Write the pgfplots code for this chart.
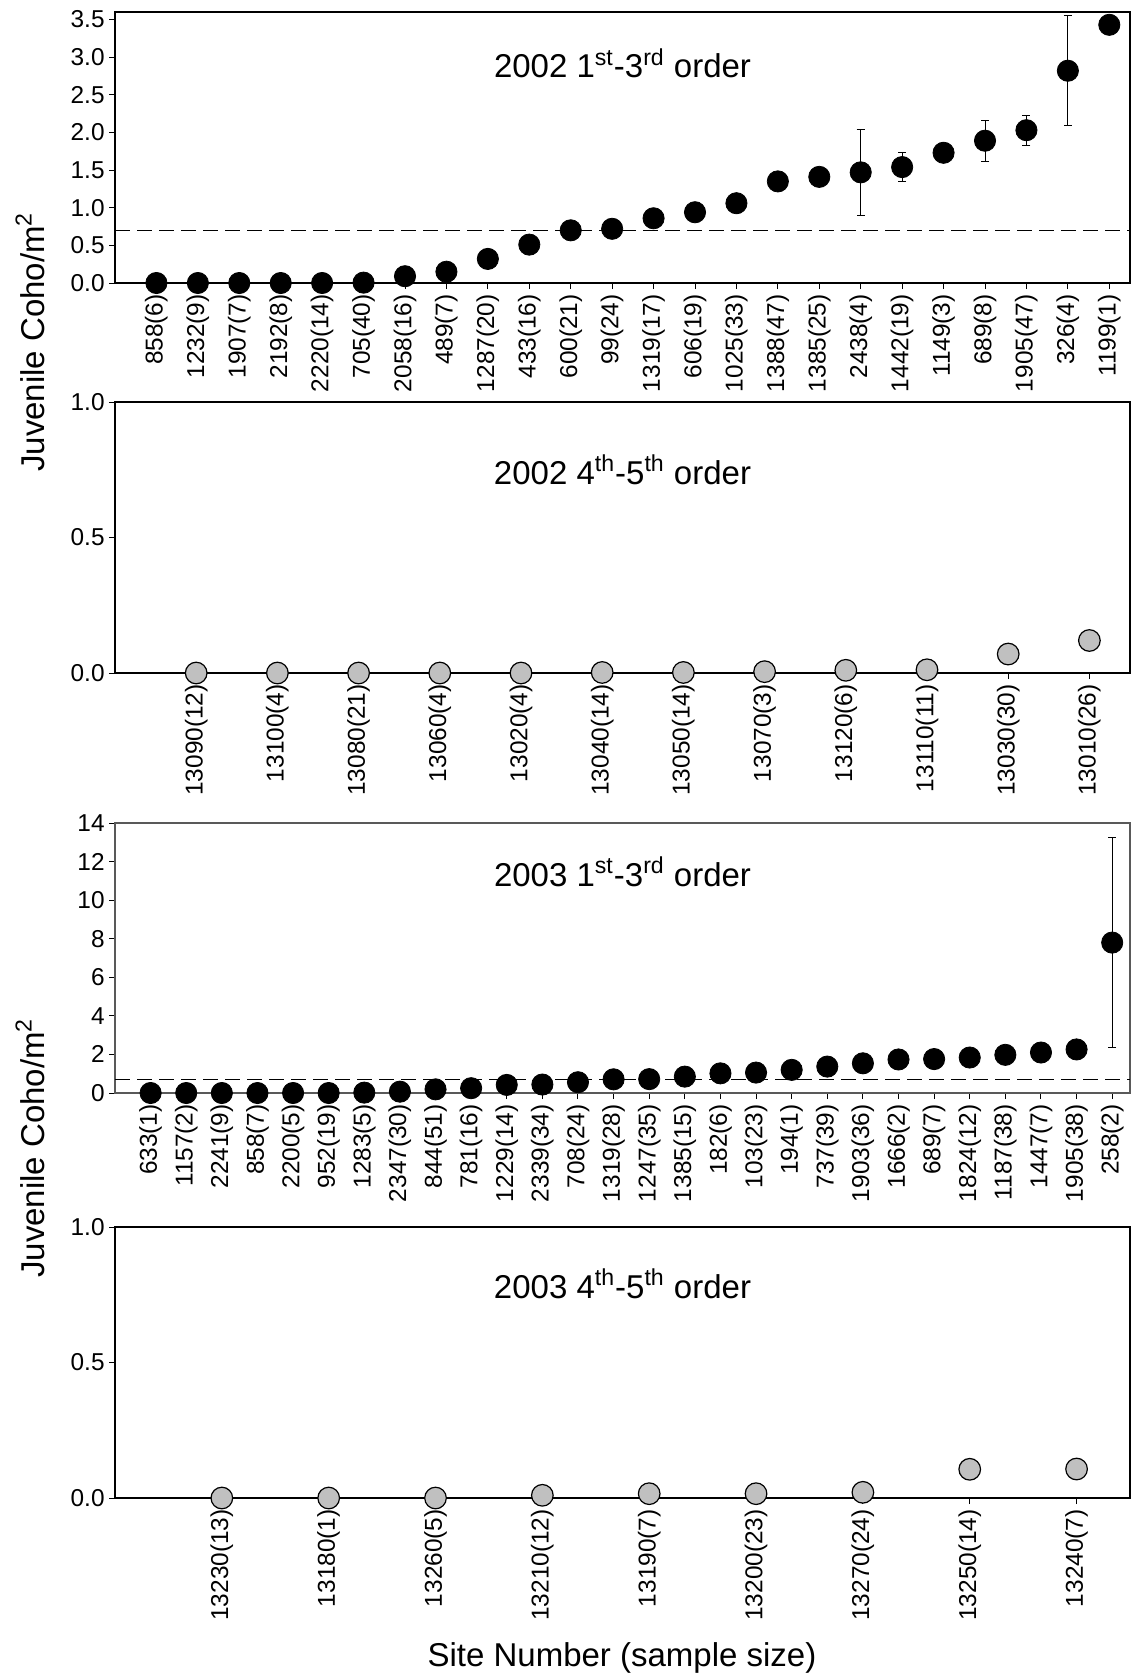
\documentclass[border=0pt]{standalone}
\usepackage{fontspec}
\setmainfont{Liberation Sans}
\usepackage{pgfplots}
\pgfplotsset{compat=1.18}

\definecolor{dotgrey}{RGB}{192,192,192}

\pgfplotsset{
  panel/.style={
    scale only axis, width=507.5pt, height=135.5pt,
    anchor=south west, clip=false,
    xmin=0, ymin=0,
    axis line style={line width=0.6pt},
    xtick pos=bottom, ytick pos=left, tick align=outside,
    major tick length=3pt,
    tick style={black, line width=0.5pt},
    /pgf/number format/assume math mode=true,
    ticklabel style={font=\fontsize{12.2}{12.2}\selectfont},
    xticklabel style={rotate=90, anchor=east, inner sep=2.5pt},
    yticklabel style={inner sep=2pt},
  },
  ydec/.style={yticklabel style={/pgf/number format/.cd, fixed, fixed zerofill, precision=1}},
  blackdot/.style={only marks, mark=*, mark size=5.3pt, mark options={fill=black, draw=black},
    error bars/.cd, y dir=both, y explicit,
    error bar style={black, line width=0.5pt},
    error mark options={rotate=90, mark size=2pt, black, line width=0.5pt}},
  greydot/.style={only marks, mark=*, mark size=5.4pt, mark options={fill=dotgrey, draw=black, line width=0.6pt}},
  refline/.style={black, line width=0.5pt, dash pattern=on 7.5pt off 3.5pt},
}

\newcommand{\ttl}[1]{\fontsize{16.5}{16.5}\selectfont #1}

\begin{document}
\begin{tikzpicture}
\path[use as bounding box] (0,0) rectangle (566pt,-839pt);

% 2002 1st-3rd order
\begin{axis}[panel, ydec, at={(57.5pt,-141.5pt)},
  xmax=24.5, ymax=3.6, ytick={0,0.5,...,3.5},
  xtick={1,...,24},
  xticklabels={858(6),1232(9),1907(7),2192(8),2220(14),705(40),2058(16),489(7),1287(20),433(16),600(21),99(24),1319(17),606(19),1025(33),1388(47),1385(25),2438(4),1442(19),1149(3),689(8),1905(47),326(4),1199(1)}]
\addplot[refline] coordinates {(0,0.7) (24.5,0.7)};
\addplot[blackdot] coordinates {
  (1,0) +- (0,0) (2,0) +- (0,0) (3,0) +- (0,0) (4,0) +- (0,0)
  (5,0) +- (0,0) (6,0.005) +- (0,0) (7,0.09) +- (0,0) (8,0.15) +- (0,0)
  (9,0.32) +- (0,0) (10,0.51) +- (0,0) (11,0.70) +- (0,0) (12,0.72) +- (0,0.10)
  (13,0.86) +- (0,0.09) (14,0.94) +- (0,0.05) (15,1.06) +- (0,0.03) (16,1.35) +- (0,0.04)
  (17,1.41) +- (0,0.09) (18,1.47) +- (0,0.57) (19,1.54) +- (0,0.19) (20,1.73) +- (0,0)
  (21,1.89) +- (0,0.27) (22,2.03) +- (0,0.20) (23,2.82) +- (0,0.73) (24,3.43) +- (0,0)
};
\node at (rel axis cs:0.5,0.81) {\ttl{2002 1\textsuperscript{st}-3\textsuperscript{rd} order}};
\end{axis}

% 2002 4th-5th order
\begin{axis}[panel, ydec, at={(57.5pt,-336.5pt)},
  xmax=12.5, ymax=1, ytick={0,0.5,1},
  xtick={1,...,12},
  xticklabels={13090(12),13100(4),13080(21),13060(4),13020(4),13040(14),13050(14),13070(3),13120(6),13110(11),13030(30),13010(26)}]
\addplot[greydot] coordinates {
  (1,0) (2,0) (3,0) (4,0) (5,0) (6,0.002) (7,0.002) (8,0.005)
  (9,0.010) (10,0.012) (11,0.070) (12,0.120)
};
\node at (rel axis cs:0.5,0.75) {\ttl{2002 4\textsuperscript{th}-5\textsuperscript{th} order}};
\end{axis}

% 2003 1st-3rd order
\begin{axis}[panel, at={(57.5pt,-546.5pt)}, height=135pt,
  axis line style={line width=0.6pt, black!65},
  xmax=28.5, ymax=14, ytick={0,2,...,14},
  xtick={1,...,28},
  xticklabels={633(1),1157(2),2241(9),858(7),2200(5),952(19),1283(5),2347(30),844(51),781(16),1229(14),2339(34),708(24),1319(28),1247(35),1385(15),182(6),103(23),194(1),737(39),1903(36),1666(2),689(7),1824(12),1187(38),1447(7),1905(38),258(2)}]
\addplot[refline] coordinates {(0,0.7) (28.5,0.7)};
\addplot[blackdot] coordinates {
  (1,0) +- (0,0) (2,0) +- (0,0) (3,0) +- (0,0) (4,0) +- (0,0)
  (5,0) +- (0,0) (6,0) +- (0,0) (7,0.02) +- (0,0) (8,0.07) +- (0,0)
  (9,0.19) +- (0,0) (10,0.25) +- (0,0) (11,0.42) +- (0,0) (12,0.44) +- (0,0)
  (13,0.56) +- (0,0) (14,0.71) +- (0,0) (15,0.72) +- (0,0) (16,0.85) +- (0,0)
  (17,1.02) +- (0,0) (18,1.06) +- (0,0) (19,1.20) +- (0,0) (20,1.37) +- (0,0)
  (21,1.54) +- (0,0) (22,1.74) +- (0,0) (23,1.76) +- (0,0) (24,1.84) +- (0,0)
  (25,1.98) +- (0,0) (26,2.10) +- (0,0) (27,2.26) +- (0,0) (28,7.80) +- (0,5.45)
};
\node at (rel axis cs:0.5,0.82) {\ttl{2003 1\textsuperscript{st}-3\textsuperscript{rd} order}};
\end{axis}

% 2003 4th-5th order
\begin{axis}[panel, ydec, at={(57.5pt,-749pt)},
  xmax=9.5, ymax=1, ytick={0,0.5,1},
  xtick={1,...,9},
  xticklabels={13230(13),13180(1),13260(5),13210(12),13190(7),13200(23),13270(24),13250(14),13240(7)}]
\addplot[greydot] coordinates {
  (1,0) (2,0) (3,0) (4,0.010) (5,0.016) (6,0.016) (7,0.021) (8,0.106) (9,0.107)
};
\node at (rel axis cs:0.5,0.79) {\ttl{2003 4\textsuperscript{th}-5\textsuperscript{th} order}};
\end{axis}

\node[rotate=90] at (15pt,-171pt) {\ttl{Juvenile Coho/m\textsuperscript{2}}};
\node[rotate=90] at (15pt,-574pt) {\ttl{Juvenile Coho/m\textsuperscript{2}}};
\node at (311pt,-829pt) {\ttl{Site Number (sample size)}};
\end{tikzpicture}
\end{document}
